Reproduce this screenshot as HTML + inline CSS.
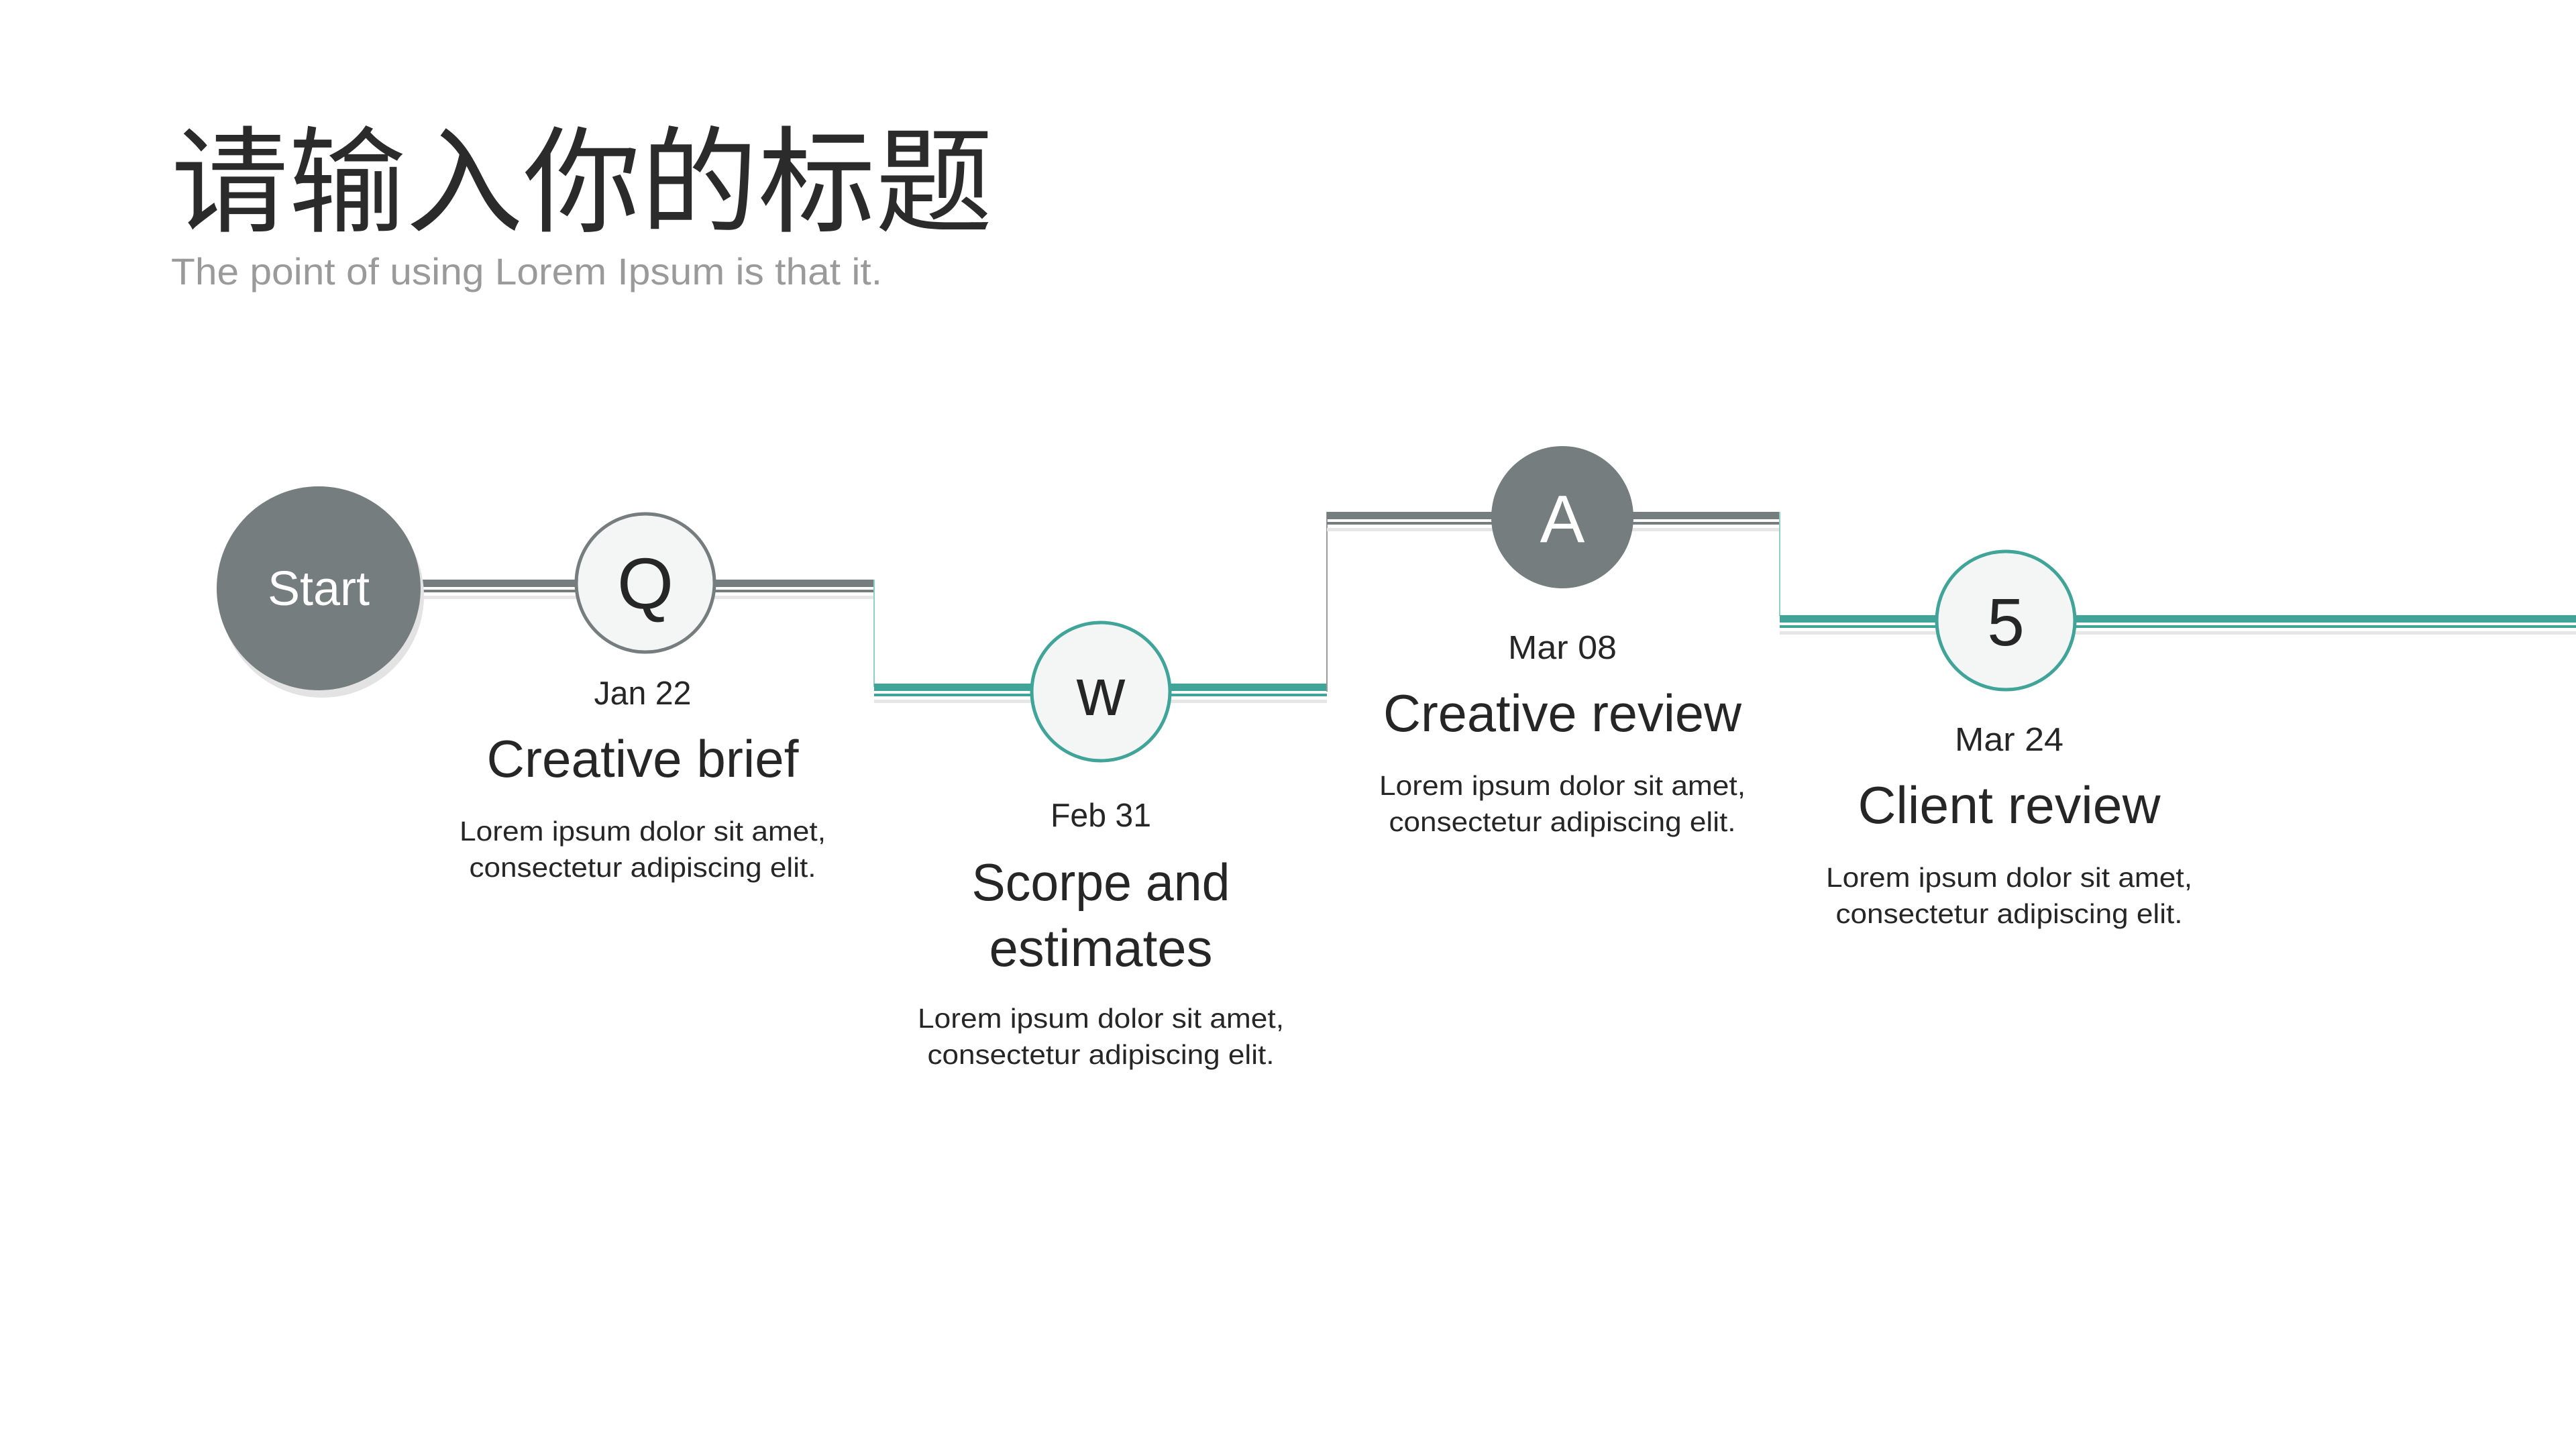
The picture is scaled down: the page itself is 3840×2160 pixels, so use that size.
<!DOCTYPE html>
<html><head><meta charset="utf-8"><style>html,body{margin:0;padding:0;background:#fff;width:3840px;height:2160px;overflow:hidden}</style></head>
<body>
<svg width="3840" height="2160" viewBox="0 0 3840 2160" xmlns="http://www.w3.org/2000/svg" font-family="Liberation Sans, Noto Sans CJK SC, sans-serif">
<text x="255" y="332" font-size="172" fill="#2b2b2b" font-family="Noto Sans CJK SC, sans-serif" textLength="1225" lengthAdjust="spacingAndGlyphs">请输入你的标题</text>
<text x="255" y="424" font-size="56" fill="#9a9a9a" textLength="1060" lengthAdjust="spacingAndGlyphs">The point of using Lorem Ipsum is that it.</text>

<!-- line groups -->
<g>
  <!-- gray segment 1 -->
  <rect x="630" y="864" width="673" height="11" fill="#767d7e"/>
  <rect x="630" y="879" width="673" height="4" fill="#767d7e"/>
  <rect x="630" y="888" width="673" height="5" fill="#e6e6e6"/>
  <!-- vertical 1 -->
  <rect x="1302" y="864" width="2" height="160" fill="#8fcfc6"/>
  <!-- teal segment 2 -->
  <rect x="1303" y="1019" width="675" height="11" fill="#40a598"/>
  <rect x="1303" y="1034" width="675" height="4" fill="#40a598"/>
  <rect x="1303" y="1043" width="675" height="5" fill="#e6e6e6"/>
  <!-- vertical 2 -->
  <rect x="1977" y="763" width="2" height="268" fill="#999"/>
  <!-- gray segment 3 -->
  <rect x="1978" y="763" width="675" height="11" fill="#767d7e"/>
  <rect x="1978" y="778" width="675" height="4" fill="#767d7e"/>
  <rect x="1978" y="787" width="675" height="5" fill="#e6e6e6"/>
  <!-- vertical 3 -->
  <rect x="2652" y="763" width="2" height="155" fill="#8fcfc6"/>
  <!-- teal segment 4 -->
  <rect x="2653" y="917" width="1187" height="11" fill="#40a598"/>
  <rect x="2653" y="932" width="1187" height="4" fill="#40a598"/>
  <rect x="2653" y="941" width="1187" height="5" fill="#e6e6e6"/>
</g>

<!-- Start -->
<circle cx="480" cy="888" r="152" fill="#e3e3e3"/>
<circle cx="475" cy="877" r="152" fill="#767d7e"/>
<text x="475" y="902" font-size="72" fill="#fff" text-anchor="middle">Start</text>

<!-- Q -->
<circle cx="962" cy="869" r="103" fill="#f4f6f5" stroke="#767d7e" stroke-width="5"/>
<text x="962" y="907" font-size="108" fill="#262626" text-anchor="middle">Q</text>

<!-- w -->
<circle cx="1641" cy="1031" r="103" fill="#f4f6f5" stroke="#40a598" stroke-width="5"/>
<text x="1641" y="1066" font-size="100" fill="#262626" text-anchor="middle">w</text>

<!-- A -->
<circle cx="2329" cy="771" r="106" fill="#767d7e"/>
<text x="2329" y="808" font-size="100" fill="#fff" text-anchor="middle">A</text>

<!-- 5 -->
<circle cx="2990" cy="925" r="103" fill="#f4f6f5" stroke="#40a598" stroke-width="5"/>
<text x="2990" y="962" font-size="100" fill="#262626" text-anchor="middle">5</text>

<g fill="#262626" text-anchor="middle">
  <text x="958" y="1050" font-size="49" textLength="145" lengthAdjust="spacingAndGlyphs">Jan 22</text>
  <text x="958" y="1158" font-size="78" textLength="465" lengthAdjust="spacingAndGlyphs">Creative brief</text>
  <text x="958" y="1253" font-size="41" textLength="546" lengthAdjust="spacingAndGlyphs">Lorem ipsum dolor sit amet,</text>
  <text x="958" y="1307" font-size="41" textLength="517" lengthAdjust="spacingAndGlyphs">consectetur adipiscing elit.</text>

  <text x="1641" y="1232" font-size="49" textLength="150" lengthAdjust="spacingAndGlyphs">Feb 31</text>
  <text x="1641" y="1342" font-size="78" textLength="385" lengthAdjust="spacingAndGlyphs">Scorpe and</text>
  <text x="1641" y="1440" font-size="78" textLength="333" lengthAdjust="spacingAndGlyphs">estimates</text>
  <text x="1641" y="1532" font-size="41" textLength="546" lengthAdjust="spacingAndGlyphs">Lorem ipsum dolor sit amet,</text>
  <text x="1641" y="1586" font-size="41" textLength="517" lengthAdjust="spacingAndGlyphs">consectetur adipiscing elit.</text>

  <text x="2329" y="982" font-size="49" textLength="162" lengthAdjust="spacingAndGlyphs">Mar 08</text>
  <text x="2329" y="1090" font-size="78" textLength="534" lengthAdjust="spacingAndGlyphs">Creative review</text>
  <text x="2329" y="1185" font-size="41" textLength="546" lengthAdjust="spacingAndGlyphs">Lorem ipsum dolor sit amet,</text>
  <text x="2329" y="1239" font-size="41" textLength="517" lengthAdjust="spacingAndGlyphs">consectetur adipiscing elit.</text>

  <text x="2995" y="1119" font-size="49" textLength="162" lengthAdjust="spacingAndGlyphs">Mar 24</text>
  <text x="2995" y="1227" font-size="78" textLength="451" lengthAdjust="spacingAndGlyphs">Client review</text>
  <text x="2995" y="1322" font-size="41" textLength="546" lengthAdjust="spacingAndGlyphs">Lorem ipsum dolor sit amet,</text>
  <text x="2995" y="1376" font-size="41" textLength="517" lengthAdjust="spacingAndGlyphs">consectetur adipiscing elit.</text>
</g>
</svg>
</body></html>
